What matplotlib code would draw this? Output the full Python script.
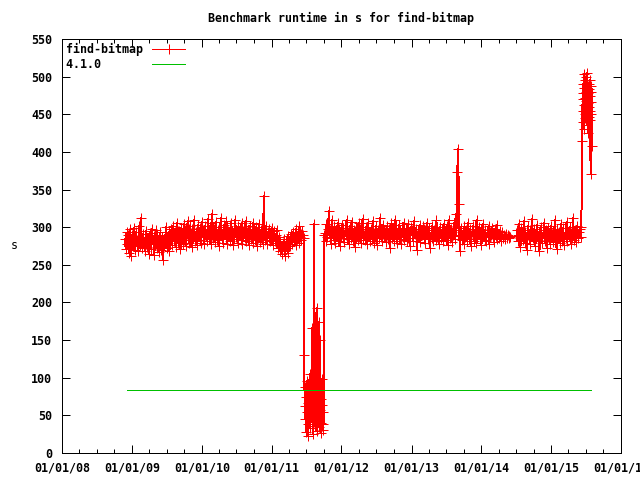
import matplotlib
matplotlib.use("Agg")
import matplotlib.pyplot as plt
import matplotlib.dates as mdates
import numpy as np
import pandas as pd

# -----------------------------
# Data
# -----------------------------
# before the drop: late 2008 -> mid 2011
seg_a_range = ("2008-11-25", "2011-06-12")
seg_a = [
    284, 271, 293, 278, 289, 266, 297, 281, 262, 290, 275, 299, 283, 270, 294, 279, 287, 268, 301, 276, 312, 285, 272, 291, 279,
    268, 286, 295, 274, 283, 265, 292, 280, 271, 298, 277, 288, 263, 284, 296, 273, 289, 278, 267, 293, 282, 270, 287, 257, 276,
    290, 279, 300, 272, 285, 294, 268, 283, 297, 276, 289, 302, 281, 293, 274, 287, 306, 279, 295, 284, 271, 299, 288, 277, 304,
    283, 296, 275, 291, 308, 286, 279, 301, 292, 274, 297, 285, 310, 281, 294, 288, 276, 303, 290, 283, 299, 279, 307, 287, 295,
    278, 301, 289, 296, 282, 311, 284, 293, 277, 305, 318, 286, 298, 280, 292, 307, 283, 296, 275, 300, 289, 312, 284, 297, 279,
    303, 291, 285, 308, 277, 295, 288, 299, 282, 306, 290, 276, 297, 284, 310, 287, 293, 279, 301, 289, 296, 283, 305, 278, 292,
    299, 286, 308, 281, 294, 288, 276, 302, 291, 284, 297, 279, 306, 290, 283, 300, 275, 293, 287, 304, 280, 296, 285, 298, 277,
    341, 289, 283, 301, 278, 294, 286, 297, 281, 292, 299, 276, 288, 295, 282, 290, 279, 296, 273, 287, 268, 281, 275, 264, 279,
    270, 284, 262, 277, 273, 288, 266, 280, 275, 291, 278, 286, 294, 281, 289, 276, 298, 284, 292, 279, 301, 287, 283, 295, 289,
]

# the fast period in summer 2011
seg_b_range = ("2011-06-18", "2011-10-01")
seg_b = [
    285, 130, 62, 45, 88, 28, 74, 55, 96, 38, 67, 22, 83, 49, 105, 60, 33, 79, 52, 41, 166, 70, 25, 58, 91,
    304, 44, 68, 36, 85, 53, 193, 29, 76, 47, 62, 174, 35, 90, 57, 150, 40, 72, 27, 64, 98, 38, 55, 31, 290,
]

# back to normal: late 2011 -> mid 2014
seg_c1_range = ("2011-10-06", "2014-06-01")
seg_c1 = [
    292, 281, 304, 287, 298, 322, 285, 296, 277, 309, 290, 283, 301, 279, 294, 288, 306, 282, 297, 275, 291, 303, 286, 299, 280,
    295, 289, 310, 284, 293, 278, 302, 290, 285, 307, 281, 296, 288, 274, 299, 292, 283, 305, 287, 297, 279, 294, 311, 286, 290,
    283, 300, 277, 293, 306, 288, 281, 298, 291, 284, 308, 279, 295, 287, 302, 276, 292, 299, 285, 312, 289, 281, 296, 303, 287,
    294, 280, 301, 290, 284, 297, 273, 292, 305, 286, 299, 282, 293, 310, 288, 279, 296, 284, 303, 291, 277, 298, 287, 306, 283,
    290, 297, 281, 304, 286, 293, 275, 300, 289, 296, 282, 308, 291, 285, 298, 270, 292, 287, 303, 280, 295, 289, 301, 284, 297,
    279, 293, 306, 288, 284, 299, 272, 291, 286, 302, 281, 296, 290, 283, 309, 287, 294, 278, 300, 292, 285, 297, 281, 304, 289,
    295, 283, 301, 276, 292, 310, 286, 298, 280, 294, 289, 305, 284, 318, 296, 373, 404, 331, 268, 288, 299, 283, 293, 278, 301,
    287, 296, 281, 305, 290, 284, 298, 275, 293, 288, 302, 282, 295, 279, 309, 286, 292, 300, 284, 297, 276, 290, 304, 288, 283,
    296, 281, 293, 287, 301, 278, 294, 289, 299, 285, 292, 280, 297, 288, 303, 284, 291, 286, 295, 282, 289, 293, 285, 290, 287,
    284, 291, 286, 289, 285, 288, 287,
]

# mid 2014 -> mid 2015
seg_c2_range = ("2014-07-03", "2015-06-12")
seg_c2 = [
    288, 296, 281, 304, 285, 274, 299, 290, 283, 308, 279, 293, 287, 270, 301, 284, 296, 278, 292, 311, 286, 281, 298, 275, 290,
    303, 283, 294, 268, 288, 300, 279, 292, 285, 306, 282, 296, 273, 289, 299, 284, 277, 302, 291, 280, 295, 287, 309, 283, 271,
    297, 286, 293, 279, 304, 288, 282, 299, 276, 291, 285, 307, 281, 294, 288, 300, 277, 292, 286, 312, 283, 296, 280, 289, 302,
    285, 293, 298, 287, 300, 415,
]

# the slow period at the end
seg_d_range = ("2015-06-14", "2015-08-01")
seg_d = [
    470, 455, 490, 440, 478, 503, 462, 430, 485, 450, 472, 495, 445, 468, 500, 458, 480, 436, 476, 505,
    452, 470, 488, 425, 465, 478, 447, 490, 460, 483, 442, 474, 496, 455, 370, 466, 480, 451, 487, 408,
]

ref_label = "4.1.0"
ref_value = 84
ref_dates = ["2008-12-05", "2015-07-26"]

series_label = "find-bitmap"
title = "Benchmark runtime in s for find-bitmap"

# -----------------------------
# Build series
# -----------------------------
segments = [
    (seg_a_range, seg_a),
    (seg_b_range, seg_b),
    (seg_c1_range, seg_c1),
    (seg_c2_range, seg_c2),
    (seg_d_range, seg_d),
]
dates = []
values = []
for (start, end), vals in segments:
    dates.extend(pd.date_range(start, end, periods=len(vals)))
    values.extend(vals)

# -----------------------------
# Plot
# -----------------------------
plt.rcParams["font.family"] = ["DejaVu Sans Mono"]
plt.rcParams["font.weight"] = "bold"
plt.rcParams["font.size"] = 8.4

fig = plt.figure(figsize=(6.4, 4.8), dpi=100)
ax = fig.add_axes([62 / 640, 27 / 480, 559 / 640, 414 / 480])

# monospace font: pad labels so the legend text lines up on the left
pad = max(len(series_label), len(ref_label))
ax.plot(dates, values, color="#ff0000", lw=0.72, marker="+", ms=6.5, mew=0.72,
        label=series_label.ljust(pad), antialiased=False)
ax.plot(pd.to_datetime(ref_dates), [ref_value, ref_value], color="#00c000", lw=0.72,
        label=ref_label.ljust(pad), antialiased=False)

ax.set_xlim(pd.Timestamp("2008-01-01"), pd.Timestamp("2016-01-01"))
ax.set_ylim(0, 550)
ax.set_yticks(np.arange(0, 551, 50))

ax.xaxis.set_major_locator(mdates.YearLocator())
ax.xaxis.set_minor_locator(mdates.MonthLocator(bymonth=[4, 7, 10]))
ax.xaxis.set_major_formatter(mdates.DateFormatter("%m/%d/%y"))

ax.tick_params(which="both", direction="in", top=True, right=True, width=0.72)
ax.tick_params(which="major", length=6)
ax.tick_params(which="minor", length=3)
ax.tick_params(axis="y", pad=7)
ax.tick_params(axis="x", pad=6)
for spine in ax.spines.values():
    spine.set_linewidth(0.72)

ax.set_title(title, pad=12, fontweight="bold", fontsize=8.4)
ax.set_ylabel("s", rotation=0, ha="center", va="center")
ax.yaxis.set_label_coords(-(62 - 14) / 559, 0.5)

leg = ax.legend(loc="upper left", frameon=False, markerfirst=False, handlelength=2.8,
                borderaxespad=0.0, borderpad=0.35, handletextpad=0.8, labelspacing=0.15)

fig.savefig("out.png", dpi=100)
